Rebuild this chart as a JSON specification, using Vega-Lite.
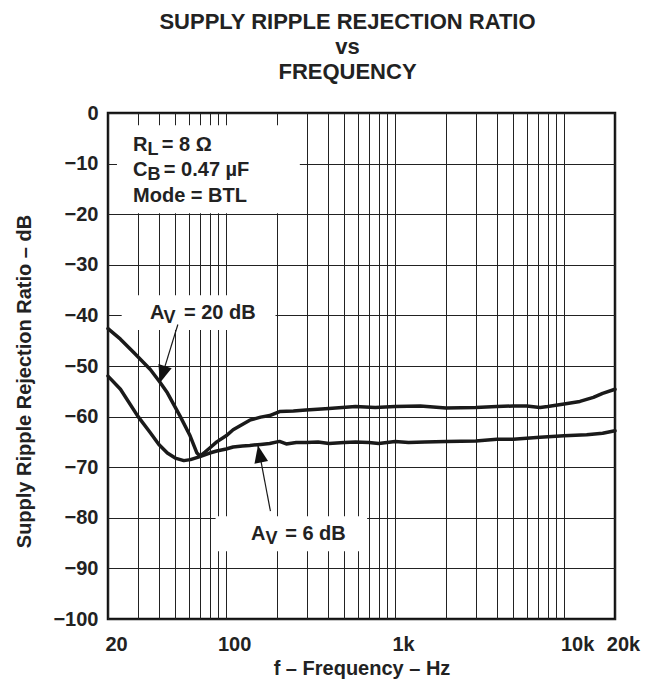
{
  "$schema": "https://vega.github.io/schema/vega-lite/v6.json",
  "width": 507,
  "height": 506,
  "autosize": {"type": "none"},
  "padding": {"left": 108, "top": 113, "right": 39, "bottom": 62},
  "background": "white",
  "config": {
    "font": "Liberation Sans",
    "view": {"stroke": "#111111", "strokeWidth": 2.5},
    "axis": {
      "labelFont": "Liberation Sans",
      "labelFontSize": 20,
      "labelFontWeight": "bold",
      "labelColor": "#222222",
      "titleFont": "Liberation Sans",
      "titleFontSize": 20,
      "titleFontWeight": "bold",
      "titleColor": "#222222",
      "gridColor": "#222222",
      "gridOpacity": 1,
      "gridWidth": 1,
      "ticks": false,
      "domain": false
    }
  },
  "title": {
    "text": ["SUPPLY RIPPLE REJECTION RATIO", "vs", "FREQUENCY"],
    "fontSize": 22,
    "fontWeight": "bold",
    "font": "Liberation Sans",
    "color": "#222222",
    "lineHeight": 25,
    "anchor": "middle",
    "dx": -14,
    "offset": 19
  },
  "datasets": {
    "curves": [
      {"f": 20, "v": -42.6, "s": "20 dB"},
      {"f": 23.7, "v": -44.7, "s": "20 dB"},
      {"f": 28.5, "v": -47.4, "s": "20 dB"},
      {"f": 35.6, "v": -50.7, "s": "20 dB"},
      {"f": 40.6, "v": -53.2, "s": "20 dB"},
      {"f": 44.9, "v": -55.3, "s": "20 dB"},
      {"f": 53.4, "v": -59.9, "s": "20 dB"},
      {"f": 61.2, "v": -63.8, "s": "20 dB"},
      {"f": 67.2, "v": -67.2, "s": "20 dB"},
      {"f": 70.1, "v": -67.8, "s": "20 dB"},
      {"f": 75, "v": -67.0, "s": "20 dB"},
      {"f": 80, "v": -66.2, "s": "20 dB"},
      {"f": 88, "v": -65.0, "s": "20 dB"},
      {"f": 100, "v": -63.8, "s": "20 dB"},
      {"f": 110, "v": -62.6, "s": "20 dB"},
      {"f": 121, "v": -61.8, "s": "20 dB"},
      {"f": 138, "v": -60.7, "s": "20 dB"},
      {"f": 160, "v": -60.1, "s": "20 dB"},
      {"f": 181, "v": -59.8, "s": "20 dB"},
      {"f": 207, "v": -59.0, "s": "20 dB"},
      {"f": 250, "v": -58.9, "s": "20 dB"},
      {"f": 297, "v": -58.7, "s": "20 dB"},
      {"f": 406, "v": -58.4, "s": "20 dB"},
      {"f": 583, "v": -58.0, "s": "20 dB"},
      {"f": 763, "v": -58.2, "s": "20 dB"},
      {"f": 1000, "v": -58.0, "s": "20 dB"},
      {"f": 1410, "v": -57.9, "s": "20 dB"},
      {"f": 2000, "v": -58.3, "s": "20 dB"},
      {"f": 3000, "v": -58.2, "s": "20 dB"},
      {"f": 4000, "v": -58.0, "s": "20 dB"},
      {"f": 5000, "v": -57.9, "s": "20 dB"},
      {"f": 6000, "v": -57.9, "s": "20 dB"},
      {"f": 7200, "v": -58.2, "s": "20 dB"},
      {"f": 8000, "v": -58.0, "s": "20 dB"},
      {"f": 10000, "v": -57.5, "s": "20 dB"},
      {"f": 12400, "v": -57.0, "s": "20 dB"},
      {"f": 14900, "v": -56.2, "s": "20 dB"},
      {"f": 16900, "v": -55.4, "s": "20 dB"},
      {"f": 20000, "v": -54.6, "s": "20 dB"},
      {"f": 20, "v": -52.0, "s": "6 dB"},
      {"f": 23.7, "v": -54.6, "s": "6 dB"},
      {"f": 30, "v": -59.9, "s": "6 dB"},
      {"f": 35.6, "v": -63.2, "s": "6 dB"},
      {"f": 40, "v": -65.5, "s": "6 dB"},
      {"f": 44.9, "v": -67.2, "s": "6 dB"},
      {"f": 50, "v": -68.2, "s": "6 dB"},
      {"f": 56.2, "v": -68.7, "s": "6 dB"},
      {"f": 61.5, "v": -68.5, "s": "6 dB"},
      {"f": 70, "v": -67.9, "s": "6 dB"},
      {"f": 80, "v": -67.2, "s": "6 dB"},
      {"f": 88, "v": -66.8, "s": "6 dB"},
      {"f": 100, "v": -66.4, "s": "6 dB"},
      {"f": 110, "v": -66.0, "s": "6 dB"},
      {"f": 125, "v": -65.8, "s": "6 dB"},
      {"f": 138, "v": -65.7, "s": "6 dB"},
      {"f": 160, "v": -65.5, "s": "6 dB"},
      {"f": 181, "v": -65.3, "s": "6 dB"},
      {"f": 207, "v": -64.9, "s": "6 dB"},
      {"f": 227, "v": -65.4, "s": "6 dB"},
      {"f": 260, "v": -65.1, "s": "6 dB"},
      {"f": 297, "v": -65.1, "s": "6 dB"},
      {"f": 350, "v": -65.0, "s": "6 dB"},
      {"f": 406, "v": -65.3, "s": "6 dB"},
      {"f": 500, "v": -65.1, "s": "6 dB"},
      {"f": 583, "v": -65.0, "s": "6 dB"},
      {"f": 700, "v": -65.1, "s": "6 dB"},
      {"f": 800, "v": -65.3, "s": "6 dB"},
      {"f": 1000, "v": -64.9, "s": "6 dB"},
      {"f": 1200, "v": -65.1, "s": "6 dB"},
      {"f": 1500, "v": -65.0, "s": "6 dB"},
      {"f": 2000, "v": -64.9, "s": "6 dB"},
      {"f": 3000, "v": -64.8, "s": "6 dB"},
      {"f": 4000, "v": -64.5, "s": "6 dB"},
      {"f": 5000, "v": -64.5, "s": "6 dB"},
      {"f": 6000, "v": -64.3, "s": "6 dB"},
      {"f": 7200, "v": -64.1, "s": "6 dB"},
      {"f": 10000, "v": -63.8, "s": "6 dB"},
      {"f": 13600, "v": -63.6, "s": "6 dB"},
      {"f": 16900, "v": -63.3, "s": "6 dB"},
      {"f": 20000, "v": -62.8, "s": "6 dB"}
    ],
    "boxes": [
      {"f": 22.6, "f2": 273, "v": -2.4, "v2": -19.8},
      {"f": 24.1, "f2": 196, "v": -36.0, "v2": -42.9},
      {"f": 86.6, "f2": 683, "v": -79.7, "v2": -86.6}
    ],
    "notes": [
      {"f": 28.13, "v": -6.32, "t": "R"},
      {"f": 41.6, "v": -6.32, "t": "= 8 Ω"},
      {"f": 28.13, "v": -11.26, "t": "C"},
      {"f": 42.8, "v": -11.26, "t": "= 0.47 µF"},
      {"f": 28.13, "v": -16.4, "t": "Mode = BTL"},
      {"f": 35.4, "v": -39.53, "t": "A"},
      {"f": 56.3, "v": -39.53, "t": "= 20 dB"},
      {"f": 140.3, "v": -83.2, "t": "A"},
      {"f": 223.6, "v": -83.2, "t": "= 6 dB"}
    ],
    "subs": [
      {"f": 34.2, "v": -7.31, "t": "L"},
      {"f": 34.2, "v": -12.25, "t": "B"},
      {"f": 42.6, "v": -40.51, "t": "V"},
      {"f": 170.8, "v": -84.19, "t": "V"}
    ],
    "arrows": [
      {"f": 51.8, "v": -41.8, "a": "a1"},
      {"f": 40.6, "v": -53.3, "a": "a1"},
      {"f": 182.9, "v": -78.7, "a": "a2"},
      {"f": 154.3, "v": -65.7, "a": "a2"}
    ],
    "heads": [
      {"f": 40.6, "v": -53.3, "a": "a1"},
      {"f": 154.3, "v": -65.7, "a": "a2"}
    ]
  },
  "layer": [
    {
      "data": {"name": "boxes"},
      "mark": {"type": "rect", "fill": "white", "stroke": null},
      "encoding": {
        "x": {
          "field": "f", "type": "quantitative",
          "scale": {"type": "log", "domain": [20, 20000]},
          "axis": {
            "title": "f – Frequency – Hz",
            "values": [20, 30, 40, 50, 60, 70, 80, 90, 100, 200, 300, 400, 500, 600, 700, 800, 900, 1000, 2000, 3000, 4000, 5000, 6000, 7000, 8000, 9000, 10000, 20000],
            "labelExpr": "datum.value == 20 ? '20' : datum.value == 100 ? '100' : datum.value == 1000 ? '1k' : datum.value == 10000 ? '10k' : datum.value == 20000 ? '20k' : ''",
            "grid": true,
            "labelOverlap": false,
            "labelFlush": false,
            "labelPadding": 15,
            "labelOffset": {"condition": {"test": "datum.value == 10000", "value": 13}, "value": 8},
            "titlePadding": 4
          }
        },
        "x2": {"field": "f2"},
        "y": {
          "field": "v", "type": "quantitative",
          "scale": {"domain": [-100, 0]},
          "axis": {
            "title": "Supply Ripple Rejection Ratio – dB",
            "values": [-100, -90, -80, -70, -60, -50, -40, -30, -20, -10, 0],
            "grid": true,
            "labelPadding": 10,
            "titlePadding": 18,
            "titleY": 268
          }
        },
        "y2": {"field": "v2"}
      }
    },
    {
      "data": {"name": "curves"},
      "mark": {"type": "line", "color": "#1a1a1a", "strokeWidth": 3.5, "strokeJoin": "round", "strokeCap": "round"},
      "encoding": {
        "x": {"field": "f", "type": "quantitative", "scale": {"type": "log", "domain": [20, 20000]}},
        "y": {"field": "v", "type": "quantitative", "scale": {"domain": [-100, 0]}},
        "detail": {"field": "s"}
      }
    },
    {
      "data": {"name": "arrows"},
      "mark": {"type": "line", "color": "#1a1a1a", "strokeWidth": 1.2},
      "encoding": {
        "x": {"field": "f", "type": "quantitative", "scale": {"type": "log", "domain": [20, 20000]}},
        "y": {"field": "v", "type": "quantitative", "scale": {"domain": [-100, 0]}},
        "detail": {"field": "a"}
      }
    },
    {
      "data": {"name": "heads"},
      "transform": [{"filter": "datum.a == 'a1'"}],
      "mark": {"type": "point", "shape": "M0,0L-0.8,2L0.8,2Z", "filled": true, "color": "#111111", "opacity": 1, "size": 300, "angle": 197},
      "encoding": {
        "x": {"field": "f", "type": "quantitative", "scale": {"type": "log", "domain": [20, 20000]}},
        "y": {"field": "v", "type": "quantitative", "scale": {"domain": [-100, 0]}}
      }
    },
    {
      "data": {"name": "heads"},
      "transform": [{"filter": "datum.a == 'a2'"}],
      "mark": {"type": "point", "shape": "M0,0L-0.8,2L0.8,2Z", "filled": true, "color": "#111111", "opacity": 1, "size": 300, "angle": 349},
      "encoding": {
        "x": {"field": "f", "type": "quantitative", "scale": {"type": "log", "domain": [20, 20000]}},
        "y": {"field": "v", "type": "quantitative", "scale": {"domain": [-100, 0]}}
      }
    },
    {
      "data": {"name": "notes"},
      "mark": {"type": "text", "align": "left", "baseline": "middle", "fontSize": 20, "fontWeight": "bold", "font": "Liberation Sans", "color": "#222222"},
      "encoding": {
        "x": {"field": "f", "type": "quantitative", "scale": {"type": "log", "domain": [20, 20000]}},
        "y": {"field": "v", "type": "quantitative", "scale": {"domain": [-100, 0]}},
        "text": {"field": "t"}
      }
    },
    {
      "data": {"name": "subs"},
      "mark": {"type": "text", "align": "left", "baseline": "middle", "fontSize": 18, "fontWeight": "bold", "font": "Liberation Sans", "color": "#222222"},
      "encoding": {
        "x": {"field": "f", "type": "quantitative", "scale": {"type": "log", "domain": [20, 20000]}},
        "y": {"field": "v", "type": "quantitative", "scale": {"domain": [-100, 0]}},
        "text": {"field": "t"}
      }
    }
  ]
}
